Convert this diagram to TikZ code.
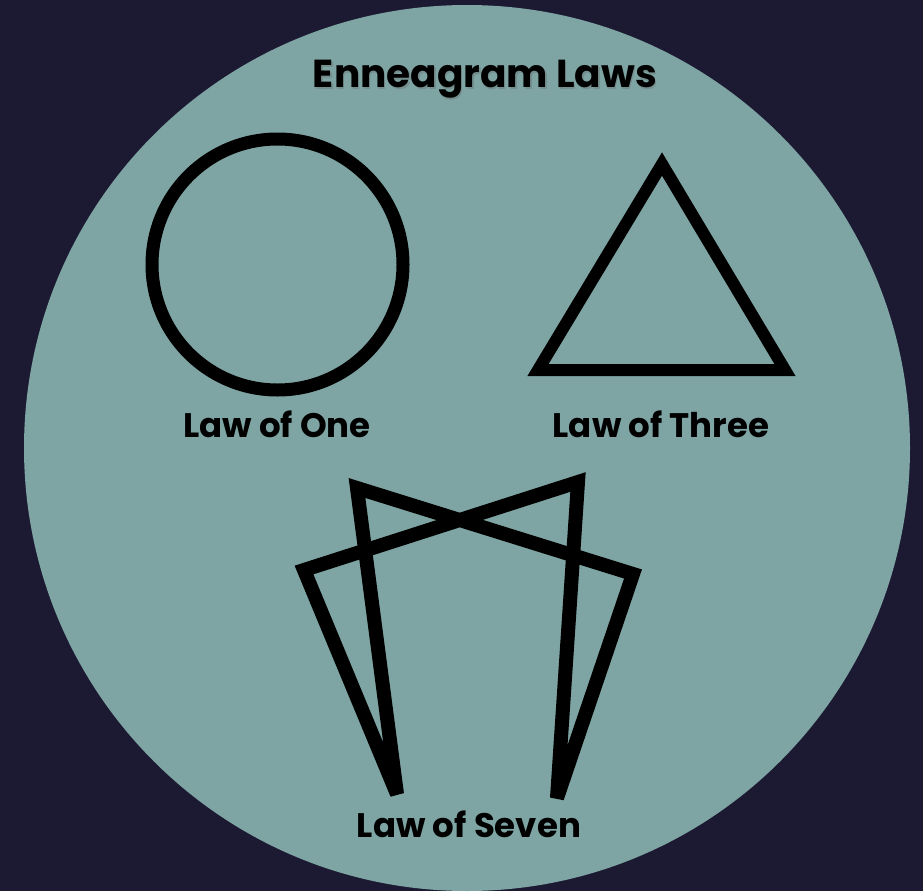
\documentclass[tikz,border=0pt]{standalone}
\usepackage{fontspec}
\setmainfont{Poppins}
\definecolor{navy}{HTML}{1C1A32}
\definecolor{tealbg}{HTML}{7EA5A4}
\begin{document}
\begin{tikzpicture}[x=1pt,y=-1pt,
  figline/.style={draw=black,line width=14pt},
  ttltext/.style={font=\fontsize{39}{44}\selectfont\bfseries,inner sep=0pt,anchor=base,text=black},
  lbltext/.style={font=\fontsize{34}{38}\selectfont\bfseries,inner sep=0pt,anchor=base,text=black}]
\useasboundingbox (0,0) rectangle (923,891);
\fill[navy] (0,0) rectangle (923,891);
\fill[tealbg] (467,448) circle[radius=443];
% Law of One
\draw[figline,line width=13pt] (277.5,264.5) circle[radius=125.5];
% Law of Three
\draw[figline,line width=12pt,line join=miter] (662,164) -- (785,370) -- (538,370) -- cycle;
% Law of Seven
\coordinate (L) at (304,570);
\coordinate (BL) at (397,794);
\coordinate (TL) at (357,488);
\coordinate (R) at (633,574);
\coordinate (BR) at (557,798);
\coordinate (TR) at (578,482);
\draw[figline,line join=miter,miter limit=2.5] (L) -- (BL) -- (TL) -- (R) -- (BR) -- (TR) -- cycle;
% texts
\node[ttltext,text=black!60,opacity=0.35] (tshadow) at (486.5,89.5) {Enneagram Laws};
\node[ttltext] (t) at (485,88) {Enneagram Laws};
\node[lbltext] (one) at (277,437) {Law of One};
\node[lbltext] (three) at (661,437) {Law of Three};
\node[lbltext] (seven) at (469,837) {Law of Seven};
\end{tikzpicture}
\end{document}
